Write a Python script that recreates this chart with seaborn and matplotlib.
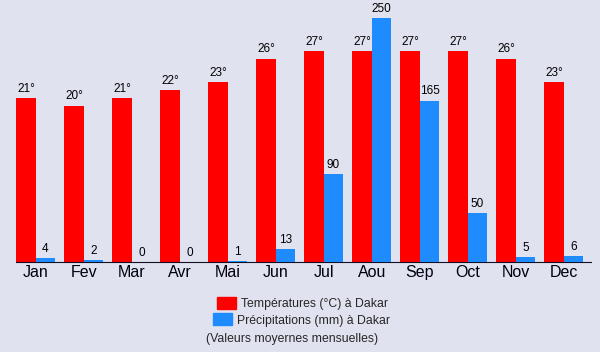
import numpy as np
import pandas as pd
import matplotlib.pyplot as plt
import seaborn as sns
from matplotlib.patches import Rectangle

months = ['Jan', 'Fev', 'Mar', 'Avr', 'Mai', 'Jun', 'Jul', 'Aou', 'Sep', 'Oct', 'Nov', 'Dec']
temperatures = [21, 20, 21, 22, 23, 26, 27, 27, 27, 27, 26, 23]
precipitations = [4, 2, 0, 0, 1, 13, 90, 250, 165, 50, 5, 6]

red = '#ff0000'
blue = '#1e8cff'
bg = '#e1e2f0'

sns.set_theme(style='white')
plt.rcParams['font.family'] = ['Liberation Sans', 'DejaVu Sans']

fig = plt.figure(figsize=(6, 3.52), dpi=100, facecolor=bg)
ax = fig.add_axes([16 / 600, 90 / 352, 575 / 600, 262 / 352])
ax2 = ax.twinx()

pos = np.arange(len(months))
temp_df = pd.DataFrame({'x': pos - 10 / 48, 'val': temperatures})
prec_df = pd.DataFrame({'x': pos + 9.5 / 48, 'val': precipitations})

sns.barplot(data=temp_df, x='x', y='val', native_scale=True, width=20 / 48,
            color=red, saturation=1, linewidth=0, errorbar=None, ax=ax)
sns.barplot(data=prec_df, x='x', y='val', native_scale=True, width=19 / 48,
            color=blue, saturation=1, linewidth=0, errorbar=None, ax=ax2)

for a in (ax, ax2):
    a.set_facecolor('none')
    for s in ['top', 'left', 'right', 'bottom']:
        a.spines[s].set_visible(False)
    a.set_ylabel('')
    a.set_xlabel('')
    a.set_yticks([])
    a.grid(False)

ax.set_ylim(0, 262 / 7.81)
ax2.set_ylim(0, 262 / 0.976)
ax.spines['bottom'].set_visible(True)
ax.spines['bottom'].set_color('#101020')
ax.spines['bottom'].set_linewidth(0.8)

# shared x axis: set ticks once, after both plots
ax.set_xlim(-20 / 48, 555 / 48)
ax.set_xticks(pos)
ax.set_xticklabels(months, fontsize=11.5, color='#000010')
ax.tick_params(axis='x', length=0, pad=2, labelbottom=True)
ax2.tick_params(axis='x', length=0, labelbottom=False, labeltop=False)

for x, v in zip(temp_df['x'], temperatures):
    ax.annotate(f'{v}°', (x, v), xytext=(0, 2.5), textcoords='offset points',
                ha='center', va='bottom', fontsize=8.5, color='black')
for x, v in zip(prec_df['x'], precipitations):
    ax2.annotate(f'{v}', (x, v), xytext=(0, 2.5), textcoords='offset points',
                 ha='center', va='bottom', fontsize=8.5, color='black')

# legend block under the chart
def fx(px):
    return px / 600

def fy(py):
    return 1 - py / 352

fig.patches.append(Rectangle((fx(217), fy(309)), 19 / 600, 12 / 352,
                             transform=fig.transFigure, color=red, figure=fig))
fig.patches.append(Rectangle((fx(213), fy(325)), 19 / 600, 12 / 352,
                             transform=fig.transFigure, color=blue, figure=fig))
fig.text(fx(241), fy(304), 'Températures (°C) à Dakar', fontsize=8.8, va='center')
fig.text(fx(237), fy(321), 'Précipitations (mm) à Dakar', fontsize=8.8, va='center')
fig.text(fx(206), fy(339), '(Valeurs moyernes mensuelles)', fontsize=8.8, va='center')

fig.savefig('out.png', dpi=100, facecolor=bg)
